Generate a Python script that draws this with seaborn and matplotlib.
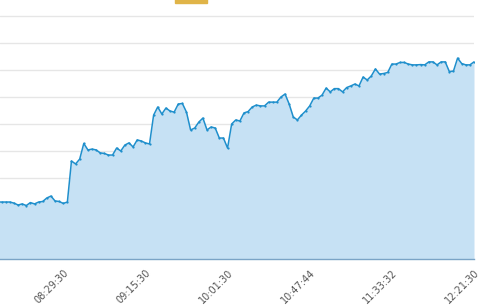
import matplotlib
matplotlib.use("Agg")
import matplotlib.pyplot as plt
import seaborn as sns
import pandas as pd
import numpy as np
from matplotlib.patches import Rectangle

# ---- data ----
values = [21.1, 21.1, 21.1, 21.1, 20.7, 20.0, 20.4, 19.8, 20.9, 20.4,
          21.1, 21.3, 22.6, 23.3, 21.5, 21.3, 20.6, 21.1, 36.3, 35.2,
          37.0, 42.8, 40.4, 40.7, 40.4, 39.3, 39.1, 38.5, 38.5, 41.1,
          40.0, 42.2, 43.0, 41.5, 44.1, 43.7, 43.0, 42.6, 53.3, 56.3,
          53.7, 55.9, 54.8, 54.4, 57.4, 57.6, 54.4, 47.8, 48.5, 50.7,
          52.2, 47.8, 48.9, 48.5, 44.8, 44.8, 41.1, 50.0, 51.5, 51.1,
          54.1, 54.6, 56.3, 57.0, 56.7, 56.7, 58.1, 58.1, 58.1, 60.0,
          61.1, 57.4, 52.6, 51.5, 53.3, 54.8, 56.7, 59.6, 59.6, 60.7,
          63.3, 61.9, 63.1, 63.1, 61.9, 63.5, 64.1, 64.8, 64.1, 67.4,
          66.3, 67.8, 70.4, 68.5, 68.7, 69.1, 72.2, 72.2, 72.8, 72.8,
          72.2, 71.9, 71.9, 72.0, 71.9, 73.0, 73.0, 71.9, 73.0, 73.0,
          69.4, 69.6, 74.4, 72.4, 71.9, 71.9, 73.0]
tick_index = [16, 36, 56, 76, 96, 116]
tick_labels = ["08:29:30", "09:15:30", "10:01:30", "10:47:44", "11:33:32", "12:21:30"]
grid_values = [10, 20, 30, 40, 50, 60, 70, 80, 90]

df = pd.DataFrame({"idx": np.arange(len(values)), "value": values})

sns.set_style("white")
plt.rcParams['font.family'] = ['DejaVu Sans']

W, H = 478, 307
fig = plt.figure(figsize=(W / 100, H / 100), dpi=100)
ax = fig.add_axes([0, 48 / H, 474 / W, 1 - 48 / H])

LINE = "#1f8fcc"
FILL = "#c6e1f4"

ax.fill_between(df["idx"], df["value"], 0, color=FILL, linewidth=0, zorder=2)
sns.lineplot(data=df, x="idx", y="value", ax=ax, color=LINE, linewidth=1.1,
             marker="o", markersize=1.6, markeredgewidth=0, zorder=3)

ax.set_xlim(0.6, 116)
ax.set_ylim(0, 259 / 2.7)

for g in grid_values:
    ax.axhline(g, color="#e6e6e6", linewidth=1, zorder=1)

for s in ["top", "right", "left"]:
    ax.spines[s].set_visible(False)
ax.spines["bottom"].set_color("#7aa4c6")
ax.spines["bottom"].set_linewidth(1)
ax.spines["bottom"].set_zorder(4)

ax.set_yticks([])
ax.set_xticks(tick_index)
ax.set_xticklabels(tick_labels, rotation=45, ha="right", va="top",
                   rotation_mode="anchor", fontsize=7, color="#555555")
ax.tick_params(axis="x", direction="out", length=4, width=1, color="#7aa4c6", pad=2)
ax.set_xlabel("")
ax.set_ylabel("")

# small golden marker cut off at the top edge
fig.patches.append(Rectangle((175 / W, 1 - 2.5 / H), 32 / W, 3 / H,
                             transform=fig.transFigure, color="#e0b448",
                             zorder=5))

fig.savefig("out.png", dpi=100)
